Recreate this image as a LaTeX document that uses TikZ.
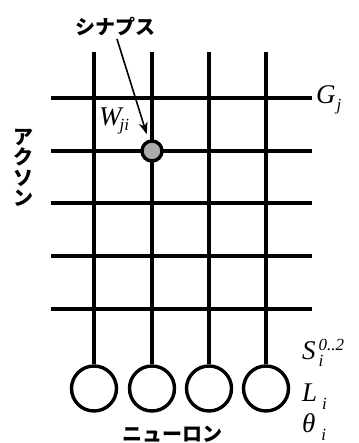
\documentclass[tikz,border=0pt]{standalone}
\usepackage{fontspec}
\setmainfont{Liberation Serif}
\newfontfamily\jpfont{Noto Sans CJK JP}
\usetikzlibrary{arrows.meta}
\newcommand{\subsz}{\fontsize{17}{17}\selectfont}
\begin{document}
\begin{tikzpicture}[x=1pt,y=-1pt,
  gridline/.style={line width=3.4pt},
  neuron/.style={circle,draw,line width=3.4pt,minimum size=45pt,inner sep=0pt,fill=white},
  synapse/.style={circle,draw,line width=3.4pt,minimum size=20pt,inner sep=0pt,fill=gray!65},
  jplabel/.style={font=\jpfont\bfseries\fontsize{20}{20}\selectfont,inner sep=0pt},
  mathlabel/.style={font=\fontsize{27}{27}\selectfont\itshape,inner sep=0pt,anchor=base west},
  pointer/.style={line width=1.6pt,-{Stealth[length=12pt,width=9pt]},shorten >=6pt}]
\useasboundingbox (0,0) rectangle (358,443);
% neurons
\foreach \i/\x in {1/94,2/152,3/209,4/266}{
  \node[neuron] (n\i) at (\x,388.5) {};
  \coordinate (t\i) at (\x,52);
}
% horizontal axons
\foreach \j/\y in {1/98,2/151,3/203,4/256,5/309}{
  \coordinate (hl\j) at (51,\y);
  \coordinate (hr\j) at (312,\y);
  \draw[gridline] (hl\j) -- (hr\j);
}
% vertical dendrites
\foreach \i in {1,...,4}{
  \draw[gridline] (t\i) -- (n\i.north);
}
% synapse
\node[synapse] (syn) at (152,151) {};
% label and arrow
\node[jplabel] (lbl) at (115,27) {シナプス};
\coordinate (arrstart) at (117,39);
\draw[pointer] (arrstart) -- (syn);
% math labels
\node[mathlabel] (w) at (99,126) {W\kern-2pt\raisebox{-5pt}{\subsz ji}};
\node[mathlabel] (g) at (316,104) {G\kern1pt\raisebox{-7pt}{\subsz j}};
\node[mathlabel] (s) at (302,359) {S\kern3pt\rlap{\raisebox{-7pt}{\subsz i}}\raisebox{9pt}{\subsz 0..2}};
\node[mathlabel] (l) at (302,401) {L\kern5pt\raisebox{-8pt}{\subsz i}};
\node[mathlabel] (th) at (302,432) {θ\kern6pt\raisebox{-8pt}{\subsz i}};
% japanese labels
\node[jplabel,align=center,font=\jpfont\bfseries\fontsize{20}{20.5}\selectfont] (axon) at (23,168) {ア\\ク\\ソ\\ン};
\node[jplabel] (neu) at (172,434) {ニューロン};
\end{tikzpicture}
\end{document}
